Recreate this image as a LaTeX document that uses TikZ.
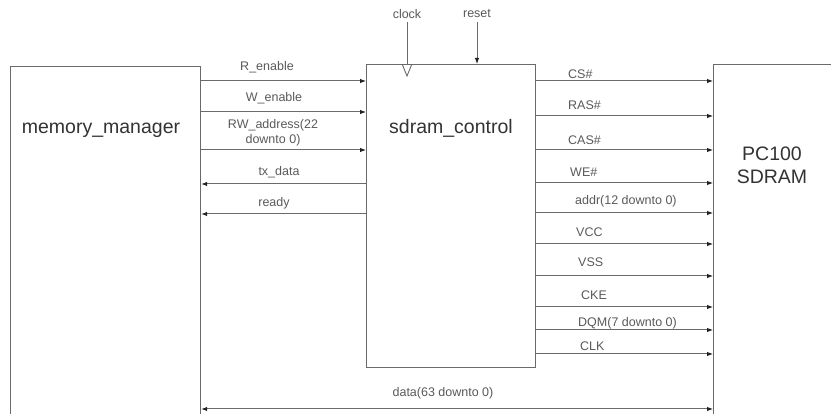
\documentclass[tikz,border=0pt]{standalone}
\usepackage{fontspec}
\setmainfont{Liberation Sans}
\usetikzlibrary{arrows.meta}
\definecolor{ln}{HTML}{6A6A6A}
\definecolor{tip}{HTML}{222222}
\definecolor{tx}{HTML}{5A5A5A}
\definecolor{tt}{HTML}{333333}
\tikzset{
  box/.style={draw=ln, line width=1.2pt, fill=white, inner sep=0pt, anchor=north west},
  sig/.style={draw=ln, line width=1pt, -{Latex[length=6pt,width=4.5pt,color=tip]}},
  bisig/.style={draw=ln, line width=1pt, {Latex[length=6pt,width=4.5pt,color=tip]}-{Latex[length=6pt,width=4.5pt,color=tip]}},
  wire/.style={draw=ln, line width=1pt},
  lab/.style={text=tx, font=\fontsize{12.5}{14}\selectfont, inner sep=0pt},
  labl/.style={lab, anchor=west},
  title/.style={text=tt, font=\fontsize{19.5}{24}\selectfont, inner sep=0pt, align=center}
}
\begin{document}
\begin{tikzpicture}[x=1pt,y=-1pt]
\useasboundingbox (0,0) rectangle (831,414);
\clip (0,0) rectangle (831,414);
\fill[white] (0,0) rectangle (831,414);
% boxes
\node[box, minimum width=190pt, minimum height=380pt] (mm) at (10,66) {};
\node[box, minimum width=169pt, minimum height=303pt] (ctl) at (366,64) {};
\node[box, minimum width=160pt, minimum height=380pt] (sd) at (713,64) {};
\node[title] (mmt) at (101,130) {memory\_manager};
\node[title] (ctlt) at (451,128) {sdram\_control};
\node[title, text depth=0pt] (sdt) at (772,165) {PC100\\[-1pt]SDRAM};
% left signals
\draw[sig] (mm.east |- 0,81) -- (ctl.west |- 0,81);
\draw[sig] (mm.east |- 0,112) -- (ctl.west |- 0,112);
\draw[sig] (mm.east |- 0,150) -- (ctl.west |- 0,150);
\draw[sig] (ctl.west |- 0,184) -- (mm.east |- 0,184);
\draw[sig] (ctl.west |- 0,214) -- (mm.east |- 0,214);
\node[lab] (l1) at (267,67) {R\_enable};
\node[lab] (l2) at (274,98) {W\_enable};
\node[lab] (l3) at (273,125) {RW\_address(22};
\node[lab] (l3b) at (273,140) {downto 0)};
\node[lab] (l4) at (279,172) {tx\_data};
\node[lab] (l5) at (274,203) {ready};
% right signals
\foreach \yy in {81,116,150,183,213,244,276,307,330,354}{
  \draw[sig] (ctl.east |- 0,\yy) -- (sd.west |- 0,\yy);
}
\node[labl] (r1) at (568,74) {CS\#};
\node[labl] (r2) at (568,105) {RAS\#};
\node[labl] (r3) at (568,140) {CAS\#};
\node[labl] (r4) at (570,172) {WE\#};
\node[labl] (r5) at (575,201) {addr(12 downto 0)};
\node[labl] (r6) at (576,232) {VCC};
\node[labl] (r7) at (578,262) {VSS};
\node[labl] (r8) at (581,295) {CKE};
\node[labl] (r9) at (578,323) {DQM(7 downto 0)};
\node[labl] (r10) at (580,346) {CLK};
% data bus
\draw[bisig] (mm.east |- 0,409) -- (sd.west |- 0,409);
\node[lab] (dl) at (443,393) {data(63 downto 0)};
% clock and reset
\node[lab] (clkl) at (407,14) {clock};
\node[lab] (rstl) at (477,14) {reset};
\coordinate (clk) at (407,22);
\coordinate (rst) at (477,22);
\draw[wire] (clk) -- (ctl.north -| clk);
\draw[wire, line width=0.9pt] (402.5,65) -- (407,76) -- (411.5,65);
\draw[sig] (rst) -- (ctl.north -| rst);
\end{tikzpicture}
\end{document}
